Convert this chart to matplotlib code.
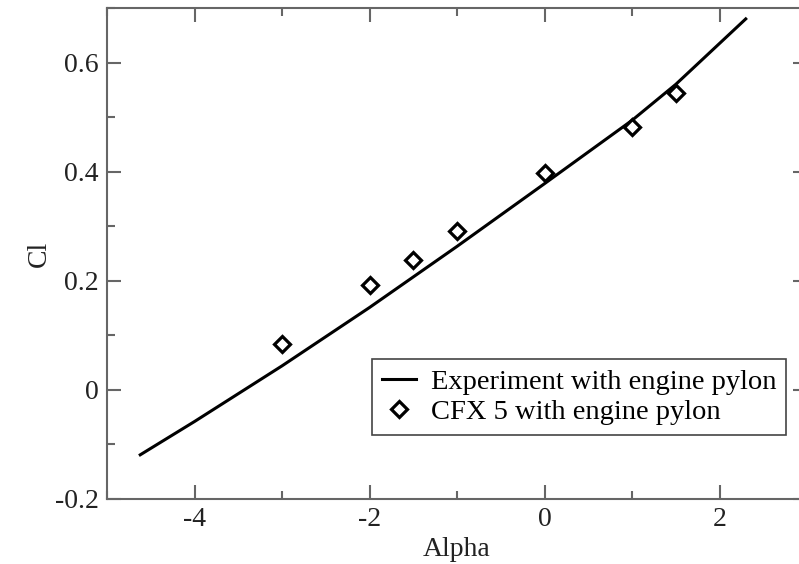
import matplotlib
matplotlib.use("Agg")
import matplotlib.pyplot as plt
from matplotlib.ticker import MultipleLocator

# Experiment curve
exp_alpha = [-4.62, -4.0, -3.0, -2.0, -1.0, 0.0, 1.0, 1.5, 2.3]
exp_cl = [-0.119, -0.058, 0.044, 0.151, 0.263, 0.378, 0.494, 0.560, 0.680]

# CFX 5 points
cfx_alpha = [-3.0, -2.0, -1.5, -1.0, 0.0, 1.0, 1.5]
cfx_cl = [0.085, 0.192, 0.238, 0.292, 0.398, 0.482, 0.545]

plt.rcParams['font.family'] = ['Liberation Serif', 'DejaVu Serif']
plt.rcParams['font.size'] = 20

fig = plt.figure(figsize=(7.99, 5.64), dpi=100)
# right spine sits just past the image edge, as in the reference
ax = fig.add_axes([107 / 799, 65 / 564, 700 / 799, 491 / 564])

ax.plot(exp_alpha, exp_cl, color='black', lw=2.2, label='Experiment with engine pylon')
ax.plot(cfx_alpha, cfx_cl, linestyle='none', marker='D', markersize=8,
        markerfacecolor='white', markeredgecolor='black', markeredgewidth=2.3,
        label='CFX 5 with engine pylon')

ax.set_xlim(-5, 3)
ax.set_ylim(-0.2, 0.7)
ax.xaxis.set_minor_locator(MultipleLocator(1))
ax.yaxis.set_minor_locator(MultipleLocator(0.1))
ax.set_xticks([-4, -2, 0, 2])
ax.set_xticklabels(['-4', '-2', '0', '2'])
ax.set_yticks([-0.2, 0, 0.2, 0.4, 0.6])
ax.set_yticklabels(['-0.2', '0', '0.2', '0.4', '0.6'])

for s in ax.spines.values():
    s.set_color('#666666')
    s.set_linewidth(1.5)
ax.tick_params(which='both', direction='in', top=True, right=True, colors='#666666',
               labelcolor='#222222', width=1.5)
ax.tick_params(which='major', length=10, pad=6)
ax.tick_params(which='minor', length=6)

ax.set_xlabel('Alpha', color='#222222', labelpad=3)
ax.set_ylabel('Cl', color='#222222', labelpad=2)

leg = ax.legend(loc='upper left', bbox_to_anchor=(0.379, 0.285), fancybox=False,
                edgecolor='#444444', framealpha=1, handlelength=1.2, handletextpad=0.5,
                borderpad=0.35, labelspacing=0.15, borderaxespad=0, fontsize=20.5)
leg.get_frame().set_linewidth(1.2)

fig.savefig('out.png', dpi=100)
